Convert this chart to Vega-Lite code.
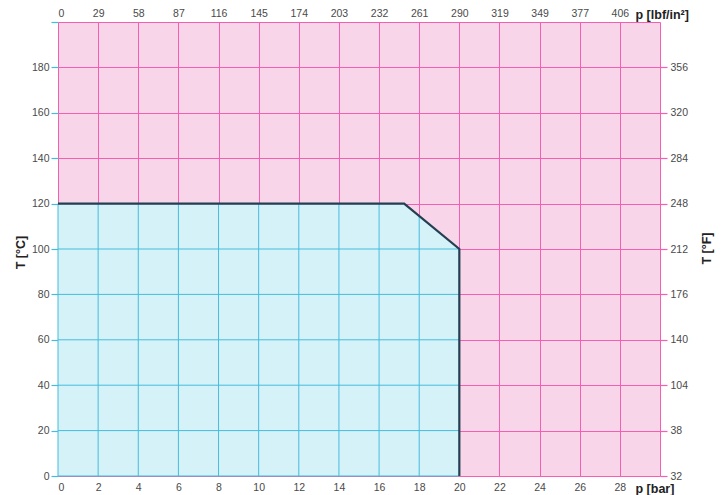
{
  "$schema": "https://vega.github.io/schema/vega-lite/v6.json",
  "width": 602,
  "height": 454,
  "autosize": {"type": "none"},
  "padding": {"left": 58, "top": 22, "right": 62, "bottom": 19},
  "background": "#ffffff",
  "config": {
    "view": {"stroke": null, "fill": "#f9d5ea"},
    "font": "Liberation Sans",
    "axis": {
      "labelFont": "Liberation Sans",
      "labelFontSize": 10.5,
      "labelColor": "#4a4a4a",
      "domain": false,
      "titleFont": "Liberation Sans",
      "titleFontWeight": "bold",
      "titleFontSize": 12.5,
      "titleColor": "#222222",
      "gridColor": "#f55fb1",
      "gridOpacity": 1,
      "gridWidth": 1
    }
  },
  "layer": [
    {
      "data": {"values": [
        {"p": 0, "t": 120},
        {"p": 17.25, "t": 120},
        {"p": 20, "t": 100}
      ]},
      "mark": {"type": "area", "color": "#d6f2f9", "opacity": 1},
      "encoding": {
        "x": {
          "field": "p", "type": "quantitative",
          "scale": {"domain": [0, 30], "nice": false, "zero": false},
          "axis": {
            "orient": "bottom",
            "values": [0, 2, 4, 6, 8, 10, 12, 14, 16, 18, 20, 22, 24, 26, 28],
            "ticks": false, "grid": false, "labelPadding": 6,
            "title": "p [bar]",
            "titleX": 577, "titleY": 12, "titleAlign": "left", "titleBaseline": "middle", "titleAngle": 0
          }
        },
        "y": {
          "field": "t", "type": "quantitative",
          "scale": {"domain": [0, 200], "nice": false, "zero": false},
          "axis": {
            "orient": "left",
            "values": [0, 20, 40, 60, 80, 100, 120, 140, 160, 180, 200],
            "grid": true, "ticks": true, "tickColor": "#45bcdc", "tickSize": 7, "tickWidth": 1.2,
            "labelPadding": 2,
            "labelExpr": "datum.value == 200 ? '' : datum.label",
            "title": "T [°C]",
            "titleX": -38, "titleY": 230, "titleAngle": 270, "titleAlign": "center", "titleBaseline": "middle"
          }
        },
        "y2": {"datum": 0}
      }
    },
    {
      "data": {"values": [
        {"p": 0, "t0": 0, "t1": 120},
        {"p": 2, "t0": 0, "t1": 120},
        {"p": 4, "t0": 0, "t1": 120},
        {"p": 6, "t0": 0, "t1": 120},
        {"p": 8, "t0": 0, "t1": 120},
        {"p": 10, "t0": 0, "t1": 120},
        {"p": 12, "t0": 0, "t1": 120},
        {"p": 14, "t0": 0, "t1": 120},
        {"p": 16, "t0": 0, "t1": 120},
        {"p": 18, "t0": 0, "t1": 114.5}
      ]},
      "mark": {"type": "rule", "color": "#45bcdc", "strokeWidth": 1},
      "encoding": {
        "x": {
          "field": "p", "type": "quantitative",
          "axis": {
            "orient": "top",
            "values": [0, 2, 4, 6, 8, 10, 12, 14, 16, 18, 20, 22, 24, 26, 28, 30],
            "ticks": false, "grid": true, "labelPadding": 4,
            "labelExpr": "datum.value == 30 ? '' : ['0','29','58','87','116','145','174','203','232','261','290','319','349','377','406'][datum.value / 2]",
            "title": "p [lbf/in²]",
            "titleX": 577, "titleY": -8, "titleAlign": "left", "titleBaseline": "middle", "titleAngle": 0
          }
        },
        "y": {
          "field": "t0", "type": "quantitative",
          "axis": {
            "orient": "right",
            "values": [0, 20, 40, 60, 80, 100, 120, 140, 160, 180],
            "grid": false, "ticks": true, "tickColor": "#f55fb1", "tickSize": 7, "tickWidth": 1.2,
            "labelPadding": 3,
            "labelExpr": "['32','38','104','140','176','212','248','284','320','356'][datum.value / 20]",
            "title": "T [°F]",
            "titleX": 46, "titleY": 226, "titleAngle": 270, "titleAlign": "center", "titleBaseline": "middle"
          }
        },
        "y2": {"field": "t1"}
      }
    },
    {
      "data": {"values": [
        {"t": 0, "p0": 0, "p1": 20},
        {"t": 20, "p0": 0, "p1": 20},
        {"t": 40, "p0": 0, "p1": 20},
        {"t": 60, "p0": 0, "p1": 20},
        {"t": 80, "p0": 0, "p1": 20},
        {"t": 100, "p0": 0, "p1": 20}
      ]},
      "mark": {"type": "rule", "color": "#45bcdc", "strokeWidth": 1},
      "encoding": {
        "x": {"field": "p0", "type": "quantitative", "axis": null},
        "x2": {"field": "p1"},
        "y": {"field": "t", "type": "quantitative", "axis": null}
      }
    },
    {
      "data": {"values": [
        {"o": 1, "p": 0, "t": 120},
        {"o": 2, "p": 17.25, "t": 120},
        {"o": 3, "p": 20, "t": 100},
        {"o": 4, "p": 20, "t": 0}
      ]},
      "mark": {"type": "line", "color": "#233f52", "strokeWidth": 2.2},
      "encoding": {
        "x": {"field": "p", "type": "quantitative", "axis": null},
        "y": {"field": "t", "type": "quantitative", "axis": null},
        "order": {"field": "o", "type": "quantitative"}
      }
    }
  ],
  "resolve": {"axis": {"x": "independent", "y": "independent"}}
}
